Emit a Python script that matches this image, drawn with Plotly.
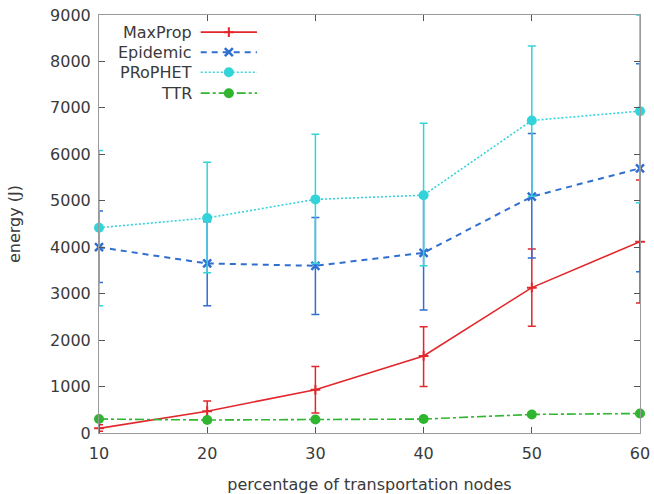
import plotly.graph_objects as go

# Percentage of transportation nodes
nodes = [10, 20, 30, 40, 50, 60]

# Mean energy (J) with lower / upper bounds of the error bars
maxprop = [100, 470, 930, 1660, 3130, 4120]
maxprop_lo = [40, 250, 430, 1000, 2300, 2800]
maxprop_hi = [180, 690, 1430, 2290, 3960, 5450]

epidemic = [4000, 3650, 3600, 3880, 5090, 5700]
epidemic_lo = [3240, 2740, 2550, 2650, 3770, 3470]
epidemic_hi = [4780, 4550, 4640, 5100, 6450, 7950]

prophet = [4420, 4630, 5030, 5120, 6730, 6930]
prophet_lo = [2740, 3450, 3650, 3600, 5100, 4960]
prophet_hi = [6080, 5830, 6430, 6670, 8330, 9000]

ttr = [300, 280, 290, 300, 400, 420]
ttr_lo = [260, 240, 250, 260, 360, 380]
ttr_hi = [340, 320, 330, 340, 440, 460]

y_ticks = [0, 1000, 2000, 3000, 4000, 5000, 6000, 7000, 8000, 9000]

FONT = "DejaVu Sans"
TEXT = "#3a3a3a"

RED, BLUE, CYAN, GREEN = "#e3262b", "#2f6fd2", "#33d3da", "#2fb52f"

series = [
    ("MaxProp", maxprop, maxprop_lo, maxprop_hi, RED, "solid", 1.6,
     dict(symbol="cross-thin-open", size=7, color=RED,
          line=dict(width=2, color=RED))),
    ("Epidemic", epidemic, epidemic_lo, epidemic_hi, BLUE, "6px,5px", 2,
     dict(symbol="x-thin-open", size=8, color=BLUE,
          line=dict(width=2.5, color=BLUE))),
    ("PRoPHET", prophet, prophet_lo, prophet_hi, CYAN, "2px,2px", 1.6,
     dict(symbol="circle", size=10, color=CYAN)),
    ("TTR", ttr, ttr_lo, ttr_hi, GREEN, "dashdot", 1.6,
     dict(symbol="circle", size=10, color=GREEN)),
]

fig = go.Figure()

for name, vals, lo, hi, color, dash, width, marker in series:
    fig.add_trace(go.Scatter(
        x=nodes, y=vals, name=name, mode="lines+markers",
        line=dict(color=color, width=width, dash=dash),
        marker=marker,
        error_y=dict(
            type="data", symmetric=False,
            array=[h - v for h, v in zip(hi, vals)],
            arrayminus=[v - l for v, l in zip(vals, lo)],
            color=color, thickness=1.5, width=4,
        ),
        cliponaxis=False, showlegend=False,
    ))

# gnuplot-style key: label on the left, line sample on the right
key_rows = [0.959, 0.911, 0.863, 0.813]
for (name, vals, lo, hi, color, dash, width, marker), ky in zip(series, key_rows):
    fig.add_trace(go.Scatter(
        x=[0.188, 0.24, 0.292], y=[ky, ky, ky], xaxis="x2", yaxis="y2",
        mode="lines", line=dict(color=color, width=width, dash=dash),
        showlegend=False, hoverinfo="skip",
    ))
    fig.add_trace(go.Scatter(
        x=[0.24], y=[ky], xaxis="x2", yaxis="y2",
        mode="markers", marker=marker, showlegend=False, hoverinfo="skip",
    ))
    fig.add_annotation(
        xref="paper", yref="paper", x=0.175, y=ky, text=name,
        xanchor="right", yanchor="middle", showarrow=False,
        font=dict(family=FONT, size=16, color=TEXT),
    )

axis_common = dict(
    showline=True, linecolor="#9a9a9a", linewidth=1, mirror="ticks",
    ticks="inside", ticklen=6, tickcolor="#555555", tickwidth=1,
    showgrid=False, zeroline=False, automargin=False,
    tickfont=dict(family=FONT, size=16, color=TEXT),
)

fig.update_layout(
    width=654, height=494,
    margin=dict(l=99, r=14, t=15, b=61),
    paper_bgcolor="white", plot_bgcolor="white",
    xaxis=dict(
        range=[10, 60], tickvals=nodes, ticklabelstandoff=6,
        title=dict(text="percentage of transportation nodes",
                   font=dict(family=FONT, size=16, color=TEXT), standoff=18),
        **axis_common,
    ),
    yaxis=dict(
        range=[0, 9000], tickvals=y_ticks, ticklabelstandoff=4,
        title=dict(text="energy (J)",
                   font=dict(family=FONT, size=16, color=TEXT), standoff=25),
        **axis_common,
    ),
    xaxis2=dict(range=[0, 1], overlaying="x", visible=False, fixedrange=True),
    yaxis2=dict(range=[0, 1], overlaying="y", visible=False, fixedrange=True),
)

fig.write_html("out.html")
